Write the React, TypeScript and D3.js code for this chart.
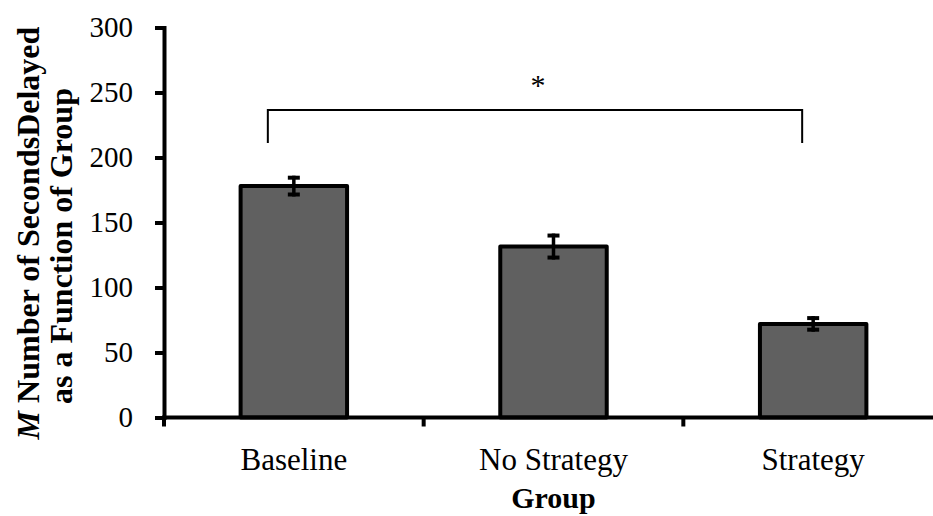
import * as d3 from "d3";
import { useEffect, useRef } from "react";

const groups = ["Baseline", "No Strategy", "Strategy"];
const meanSeconds = [178, 131.5, 72];
const errorSeconds = [8, 10, 6];
const yTicks = [0, 50, 100, 150, 200, 250, 300];

const WIDTH = 933;
const HEIGHT = 516;
const FONT = "Liberation Serif, Tinos, Times New Roman, Times, DejaVu Serif, serif";

const App = () => {
    const chartRef = useRef<SVGSVGElement | null>(null);

    useEffect(() => {
        const svg = d3.select(chartRef.current);
        svg.selectAll("*").remove();

        const scaleY = d3.scaleLinear().domain([0, 300]).range([417.5, 27.5]);
        const scaleX = d3.scaleBand()
            .domain(groups)
            .range([164, 943])
            .paddingInner(0.59)
            .paddingOuter(0.295);
        const step = scaleX.step();
        const x0 = 164;

        // bars
        svg.selectAll(".bar")
            .data(groups)
            .enter()
            .append("rect")
            .attr("x", d => scaleX(d)!)
            .attr("y", (d, i) => scaleY(meanSeconds[i]))
            .attr("width", scaleX.bandwidth())
            .attr("height", (d, i) => scaleY(0) - scaleY(meanSeconds[i]))
            .attr("fill", "#606060")
            .attr("stroke", "black")
            .attr("stroke-width", 4)
            .attr("stroke-linejoin", "round");

        // error bars
        const errG = svg.append("g").attr("stroke", "black");
        groups.forEach((g, i) => {
            const cx = scaleX(g)! + scaleX.bandwidth() / 2;
            const top = scaleY(meanSeconds[i] + errorSeconds[i]);
            const bot = scaleY(meanSeconds[i] - errorSeconds[i]);
            errG.append("line").attr("x1", cx).attr("x2", cx).attr("y1", top).attr("y2", bot).attr("stroke-width", 3.5);
            errG.append("line").attr("x1", cx - 6).attr("x2", cx + 6).attr("y1", top + 2).attr("y2", top + 2).attr("stroke-width", 4);
            errG.append("line").attr("x1", cx - 6).attr("x2", cx + 6).attr("y1", bot - 2).attr("y2", bot - 2).attr("stroke-width", 4);
        });

        // y axis
        const yAxisGroup = svg.append("g")
            .attr("transform", `translate(${x0}, 0)`)
            .call(d3.axisLeft(scaleY).tickValues(yTicks).tickSize(9).tickPadding(22));
        yAxisGroup.select(".domain").attr("stroke-width", 4);
        yAxisGroup.selectAll(".tick line").attr("stroke-width", 4);
        yAxisGroup.selectAll(".tick text")
            .style("font-family", FONT)
            .style("font-size", "29px")
            .attr("fill", "black");

        // x axis
        const xAxisGroup = svg.append("g");
        xAxisGroup.append("line")
            .attr("x1", x0 - 2).attr("x2", WIDTH)
            .attr("y1", scaleY(0)).attr("y2", scaleY(0))
            .attr("stroke", "black").attr("stroke-width", 4);
        d3.range(groups.length + 1).forEach(k => {
            xAxisGroup.append("line")
                .attr("x1", x0 + k * step).attr("x2", x0 + k * step)
                .attr("y1", scaleY(0)).attr("y2", scaleY(0) + 9)
                .attr("stroke", "black").attr("stroke-width", 4);
        });
        xAxisGroup.selectAll(".cat")
            .data(groups)
            .enter()
            .append("text")
            .attr("x", d => scaleX(d)! + scaleX.bandwidth() / 2)
            .attr("y", 470)
            .attr("text-anchor", "middle")
            .style("font-family", FONT)
            .style("font-size", "31px")
            .text(d => d);

        xAxisGroup.append("text")
            .attr("x", (x0 + x0 + step * groups.length) / 2)
            .attr("y", 508)
            .attr("text-anchor", "middle")
            .style("font-family", FONT)
            .style("font-size", "30px")
            .style("font-weight", "bold")
            .text("Group");

        // y title
        const t1 = svg.append("text")
            .attr("transform", "translate(39, 233) rotate(-90)")
            .attr("text-anchor", "middle")
            .style("font-family", FONT)
            .style("font-size", "32px")
            .style("font-weight", "bold");
        t1.append("tspan").style("font-style", "italic").text("M");
        t1.append("tspan").text(" Number of SecondsDelayed");
        svg.append("text")
            .attr("transform", "translate(72, 246) rotate(-90)")
            .attr("text-anchor", "middle")
            .style("font-family", FONT)
            .style("font-size", "32px")
            .style("font-weight", "bold")
            .text("as a Function of Group");

        // significance bracket
        const bx1 = scaleX("Baseline")! + scaleX.bandwidth() / 2 - 26;
        const bx2 = scaleX("Strategy")! + scaleX.bandwidth() / 2 - 11;
        svg.append("path")
            .attr("d", `M${bx1},143V110H${bx2}V143`)
            .attr("fill", "none")
            .attr("stroke", "black")
            .attr("stroke-width", 2);
        svg.append("text")
            .attr("x", (bx1 + bx2) / 2 + 3)
            .attr("y", 95)
            .attr("text-anchor", "middle")
            .style("font-family", FONT)
            .style("font-size", "30px")
            .text("*");
    }, []);

    return (
        <div style={{ position: "absolute", left: 0, top: 0, width: WIDTH, height: HEIGHT, background: "white" }}>
            <svg ref={chartRef} width={WIDTH} height={HEIGHT} style={{ display: "block" }} />
        </div>
    );
};

export default App;
